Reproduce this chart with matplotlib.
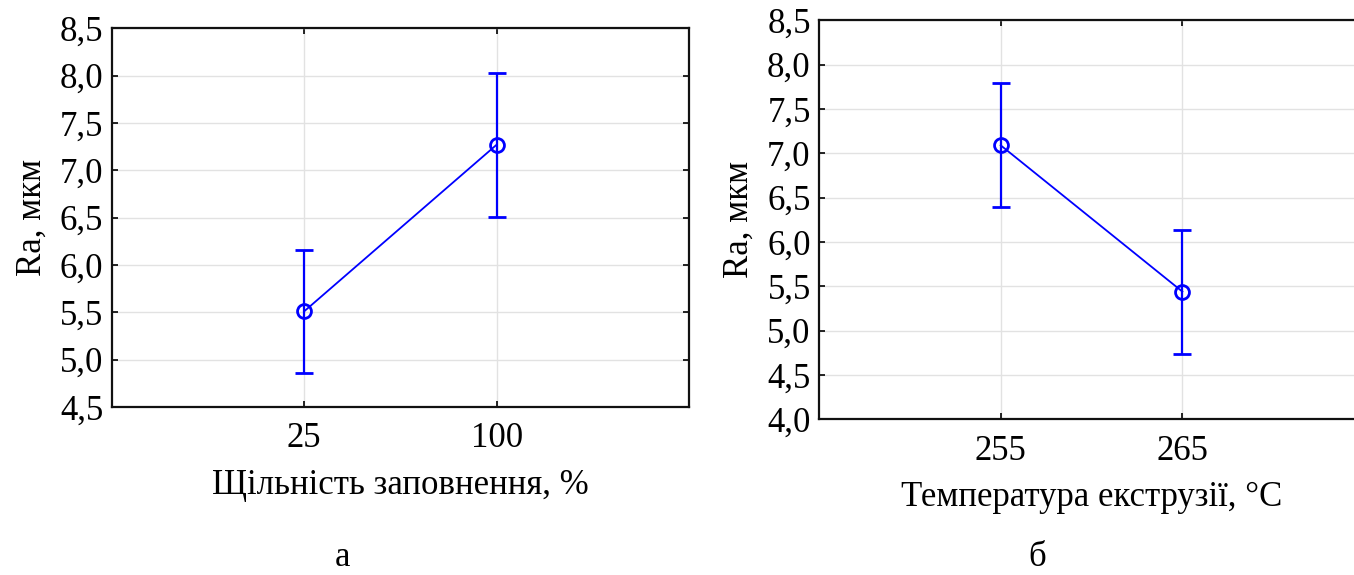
import matplotlib
matplotlib.use("Agg")
import matplotlib.pyplot as plt
from matplotlib.ticker import FuncFormatter, MultipleLocator

# Mean roughness with confidence intervals
infill_labels = ["25", "100"]
infill_ra = [5.51, 7.27]
infill_err = [0.65, 0.76]

temp_labels = ["255", "265"]
temp_ra = [7.09, 5.44]
temp_err = [0.70, 0.70]

plt.rcParams["font.family"] = ["Liberation Serif", "DejaVu Serif"]

fig = plt.figure(figsize=(13.54, 5.75), dpi=100)
ax_a = fig.add_axes([0.0825, 0.2922, 0.4264, 0.6586])
ax_b = fig.add_axes([0.6049, 0.2708, 0.4025, 0.6939])

comma = FuncFormatter(lambda v, _: f"{v:.1f}".replace(".", ","))


def draw(ax, labels, ra, err, ylo, yhi, xlabel):
    xs = list(range(len(labels)))
    ax.errorbar(xs, ra, yerr=err, color="#0000ff", lw=1.3, elinewidth=1.6,
                capsize=6.5, capthick=1.6, marker="o", markersize=10,
                markerfacecolor="none", markeredgewidth=2, zorder=3)
    ax.set_xlim(-1, 2)
    ax.set_ylim(ylo, yhi)
    ax.set_xticks(xs)
    ax.set_xticklabels(labels)
    ax.yaxis.set_major_locator(MultipleLocator(0.5))
    ax.yaxis.set_major_formatter(comma)
    ax.grid(True, color="#e2e2e2", lw=1.0, zorder=0)
    ax.set_axisbelow(True)
    ax.tick_params(direction="in", length=4, width=1.2, top=True, right=True,
                   labelsize=25, colors="black")
    ax.tick_params(axis="y", pad=6)
    ax.tick_params(axis="x", pad=11)
    for s in ax.spines.values():
        s.set_linewidth(1.6)
        s.set_color("#111111")
    ax.set_ylabel("Ra, мкм", fontsize=25, labelpad=8)
    ax.set_xlabel(xlabel, fontsize=25, labelpad=10)


draw(ax_a, infill_labels, infill_ra, infill_err, 4.5, 8.5,
     "Щільність заповнення, %")
draw(ax_b, temp_labels, temp_ra, temp_err, 4.0, 8.5,
     "Температура екструзії, °C")

fig.text(343 / 1354, 1 - 557 / 575, "а", fontsize=25, ha="center", va="center")
fig.text(1037 / 1354, 1 - 557 / 575, "б", fontsize=25, ha="center", va="center")

fig.savefig("out.png", dpi=100, facecolor="white")
